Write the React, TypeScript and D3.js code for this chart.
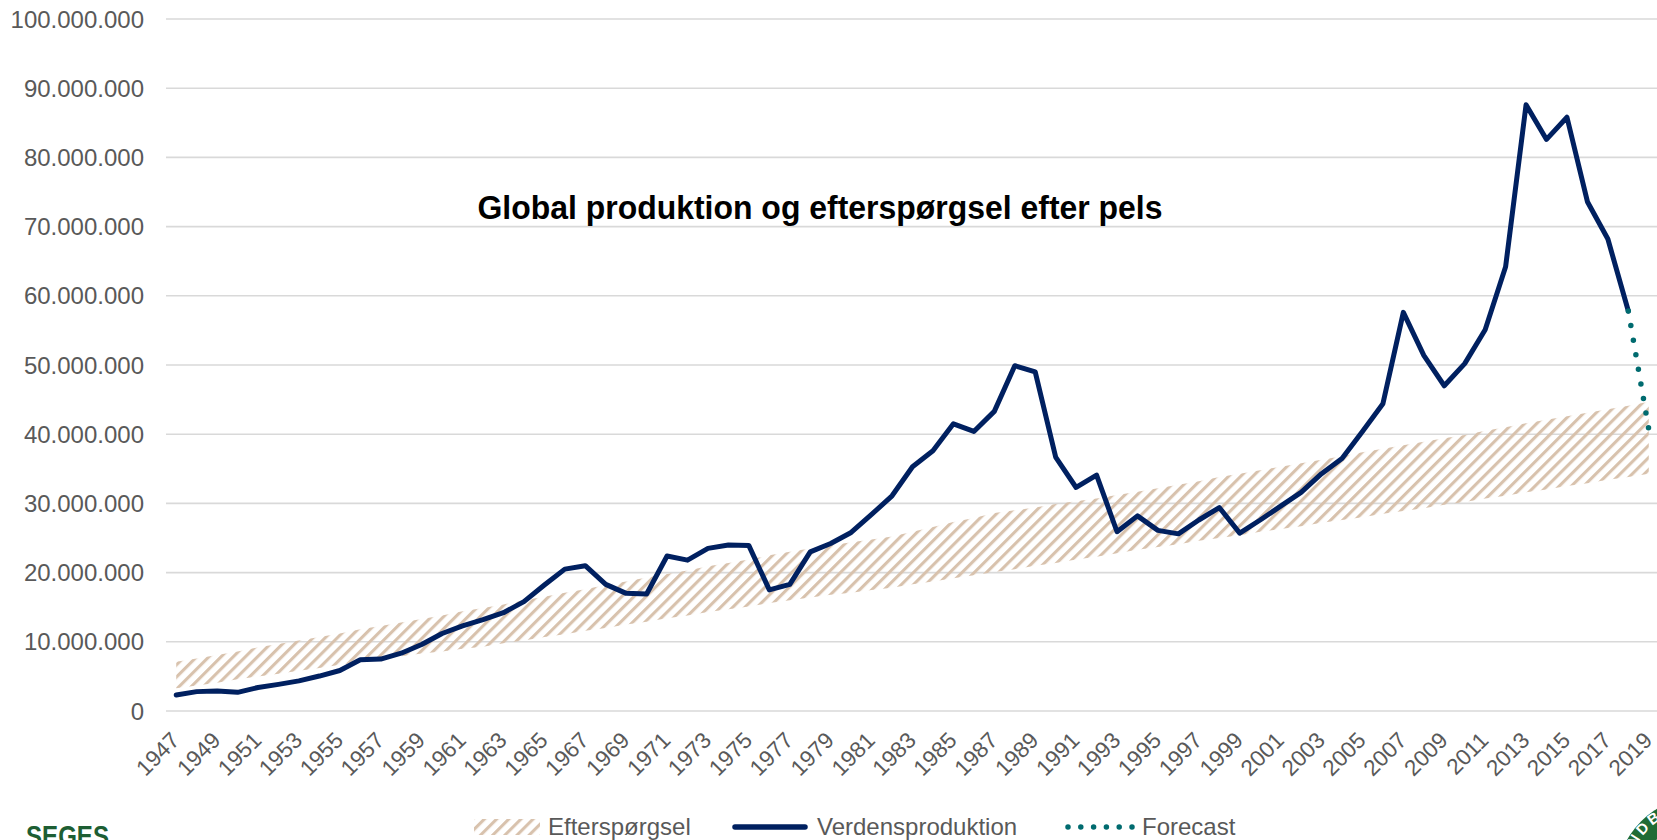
import React from "react";
import * as d3 from "d3";

const W = 1657;
const H = 840;

// Categories (years)
const years: number[] = d3.range(1947, 2020);

// Verdensproduktion 1947–2018 (mio. skind)
const production: number[] = [
  2.3, 2.8, 2.9, 2.7, 3.4, 3.85, 4.35, 5.05, 5.85, 7.4,
  7.5, 8.35, 9.6, 11.2, 12.3, 13.2, 14.2, 15.8, 18.2, 20.5,
  21.0, 18.3, 17.0, 16.9, 22.4, 21.8, 23.5, 24.0, 23.9, 17.5,
  18.3, 23.0, 24.2, 25.8, 28.4, 31.1, 35.3, 37.6, 41.5, 40.4,
  43.3, 49.9, 49.0, 36.7, 32.3, 34.1, 25.9, 28.2, 26.1, 25.6,
  27.6, 29.4, 25.7, 27.6, 29.6, 31.6, 34.3, 36.5, 40.4, 44.4,
  57.6, 51.4, 47.0, 50.2, 55.1, 64.2, 87.6, 82.6, 85.8, 73.6,
  68.2, 57.8,
];

// Forecast 2018–2019
const forecastYears: number[] = [2018, 2019];
const forecast: number[] = [57.8, 40.7];

// Efterspørgsel band 1947–2019 (lower and upper bounds, mio.)
const demandLow: number[] = [
  3.3, 3.7, 4.1, 4.6, 5.0, 5.4, 5.8, 6.2, 6.7, 7.1,
  7.5, 7.9, 8.3, 8.6, 9.0, 9.3, 9.8, 10.2, 10.7, 11.1,
  11.6, 12.0, 12.5, 12.9, 13.4, 13.8, 14.3, 14.7, 15.1, 15.6,
  16.0, 16.4, 16.8, 17.1, 17.5, 17.8, 18.3, 18.7, 19.2, 19.6,
  20.1, 20.5, 21.0, 21.4, 21.9, 22.3, 22.8, 23.3, 23.7, 24.1,
  24.6, 25.0, 25.4, 25.9, 26.3, 26.7, 27.2, 27.6, 28.0, 28.5,
  28.9, 29.3, 29.8, 30.2, 30.7, 31.1, 31.6, 32.0, 32.5, 32.9,
  33.4, 33.8, 34.3,
];
const demandHigh: number[] = [
  7.1, 7.6, 8.1, 8.6, 9.2, 9.7, 10.2, 10.7, 11.2, 11.8,
  12.3, 12.8, 13.3, 13.8, 14.4, 14.9, 15.4, 16.0, 16.5, 17.1,
  17.6, 18.2, 18.7, 19.3, 19.8, 20.3, 20.9, 21.4, 21.9, 22.5,
  23.0, 23.5, 23.9, 24.4, 24.8, 25.2, 25.9, 26.6, 27.3, 27.9,
  28.6, 29.0, 29.4, 29.9, 30.3, 30.7, 31.2, 31.7, 32.2, 32.7,
  33.2, 33.8, 34.3, 34.8, 35.3, 35.8, 36.3, 36.8, 37.4, 37.9,
  38.4, 38.9, 39.4, 39.9, 40.5, 41.0, 41.6, 42.1, 42.6, 43.1,
  43.6, 44.1, 44.7,
];

const yTicks: number[] = [0, 10, 20, 30, 40, 50, 60, 70, 80, 90, 100];
const xTickYears: number[] = years.filter((_, i) => i % 2 === 0);

const TITLE = "Global produktion og efterspørgsel efter pels";
const legendLabels = ["Efterspørgsel", "Verdensproduktion", "Forecast"];

const FONT = "'Liberation Sans', Arial, sans-serif";
const GRID = "#D9D9D9";
const TEXT = "#595959";
const NAVY = "#002060";
const TEAL = "#006B6F";
const HATCH = "#D8C2AD";

export default function App() {
  const x = d3
    .scaleBand<number>()
    .domain(years)
    .range([166, 1659])
    .paddingInner(0)
    .paddingOuter(0);
  const xc = (yr: number) => (x(yr) as number) + x.bandwidth() / 2;
  const y = d3.scaleLinear().domain([0, 100]).range([711, 19]);

  const area = d3
    .area<number>()
    .x((_, i) => xc(years[i]))
    .y0((_, i) => y(demandLow[i]))
    .y1((_, i) => y(demandHigh[i]));

  const prodLine = d3
    .line<number>()
    .x((_, i) => xc(years[i]))
    .y((d) => y(d));

  const fcLine = d3
    .line<number>()
    .x((_, i) => xc(forecastYears[i]))
    .y((d) => y(d));

  const fmt = (v: number) =>
    v === 0 ? "0" : d3.format(",")(v * 1e6).replace(/,/g, ".");

  return (
    <svg
      width={W}
      height={H}
      style={{ position: "absolute", left: 0, top: 0, background: "#fff" }}
      fontFamily={FONT}
    >
      <defs>
        <pattern
          id="hatch"
          patternUnits="userSpaceOnUse"
          width={8.6}
          height={8.6}
          patternTransform="rotate(45)"
        >
          <rect x={0} y={0} width={3.1} height={8.6} fill={HATCH} />
        </pattern>
      </defs>
      <rect x={0} y={0} width={W} height={H} fill="#fff" />

      {/* gridlines + y labels */}
      {yTicks.map((t) => (
        <g key={t}>
          <line x1={166} x2={W} y1={y(t)} y2={y(t)} stroke={GRID} strokeWidth={1.6} />
          <text
            x={144}
            y={y(t)}
            dy="0.36em"
            textAnchor="end"
            fontSize={24}
            fill={TEXT}
          >
            {fmt(t)}
          </text>
        </g>
      ))}

      {/* x labels */}
      {xTickYears.map((yr) => (
        <text
          key={yr}
          transform={`translate(${xc(yr) - 1},${736}) rotate(-45)`}
          textAnchor="end"
          dy="0.36em"
          fontSize={22.5}
          fill={TEXT}
        >
          {yr}
        </text>
      ))}

      {/* demand band */}
      <path d={area(demandHigh) || ""} fill="url(#hatch)" stroke="none" />

      {/* production */}
      <path
        d={prodLine(production) || ""}
        fill="none"
        stroke={NAVY}
        strokeWidth={5}
        strokeLinejoin="round"
        strokeLinecap="round"
      />
      {/* forecast */}
      <path
        d={fcLine(forecast) || ""}
        fill="none"
        stroke={TEAL}
        strokeWidth={5.5}
        strokeLinecap="round"
        strokeDasharray="0 14.8"
      />

      {/* title */}
      <text
        x={820}
        y={219}
        textAnchor="middle"
        fontSize={34}
        fontWeight="bold"
        fill="#000"
        textLength={685}
        lengthAdjust="spacingAndGlyphs"
      >
        {TITLE}
      </text>

      {/* legend */}
      <rect x={474} y={819} width={66} height={16} fill="url(#hatch)" />
      <text x={548} y={835} fontSize={24} fill={TEXT}>
        {legendLabels[0]}
      </text>
      <line x1={735} x2={805} y1={827} y2={827} stroke={NAVY} strokeWidth={5.5} strokeLinecap="round" />
      <text x={817} y={835} fontSize={24} fill={TEXT}>
        {legendLabels[1]}
      </text>
      <line
        x1={1068}
        x2={1134}
        y1={827}
        y2={827}
        stroke={TEAL}
        strokeWidth={5.5}
        strokeLinecap="round"
        strokeDasharray="0 12.8"
      />
      <text x={1142} y={835} fontSize={24} fill={TEXT}>
        {legendLabels[2]}
      </text>

      {/* SEGES logo text */}
      <text
        x={26}
        y={846}
        fontSize={30}
        fontWeight="bold"
        fill="#1D5E33"
        textLength={83}
        lengthAdjust="spacingAndGlyphs"
      >
        SEGES
      </text>

      {/* round logo (partially visible) */}
      <g>
        <circle cx={1702} cy={882} r={86} fill="#1F6B35" />
        <circle cx={1702} cy={882} r={62} fill="#fff" />
        <path id="logoArc" d={`M ${1702 - 75} ${882} A 75 75 0 0 1 ${1702 + 75} ${882}`} fill="none" />
        <text fontSize={15} fontWeight="bold" fill="#fff" letterSpacing={3}>
          <textPath href="#logoArc" startOffset="4%">LANDBRUG</textPath>
        </text>
      </g>
    </svg>
  );
}
